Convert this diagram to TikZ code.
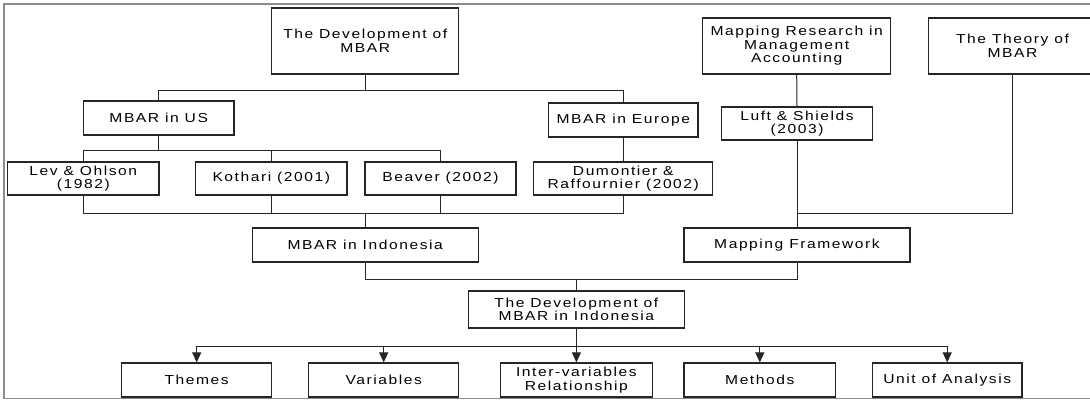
\documentclass[tikz,border=0pt]{standalone}
\usepackage{fontspec}
\newfontfamily\diagfont{Liberation Sans}[FakeStretch=1.2,LetterSpace=12]
\usetikzlibrary{arrows.meta}

\begin{document}
\begin{tikzpicture}[x=1pt,y=-1pt,
  diagbox/.style={draw=black!85,line width=1.2pt,fill=white,inner sep=0pt,
    align=center,font={\diagfont\fontsize{13}{13.5}\selectfont}},
  conn/.style={draw=black!85,line width=1pt},
  arr/.style={conn,-{Triangle[width=9pt,length=10pt]}},
  frameline/.style={draw=black!45,line width=1.8pt}]

% page area
\useasboundingbox (0,0) rectangle (1090,400);
\clip (0,0) rectangle (1090,400);
\fill[white] (0,0) rectangle (1090,400);
\draw[frameline] (4,4) rectangle (1110,398.5);

% bus levels of the connectors
\coordinate (b1) at (0,90);
\coordinate (b2) at (0,150);
\coordinate (b3) at (0,213);
\coordinate (b4) at (0,279);
\coordinate (b5) at (0,346);

% top row
\node[diagbox,minimum width=187.3pt,minimum height=66pt] (dev) at (365.2,41) {The Development of\\MBAR};
\node[diagbox,minimum width=188.3pt,minimum height=56pt] (maprsch) at (796.7,46) {Mapping Research in\\Management\\Accounting};
\node[diagbox,minimum width=168.2pt,minimum height=56pt] (theory) at (1012.5,46) {The Theory of\\MBAR};

% second row
\node[diagbox,minimum width=150.6pt,minimum height=34pt] (us) at (158.7,118) {MBAR in US};
\node[diagbox,minimum width=149.5pt,minimum height=34pt] (europe) at (623.3,120) {MBAR in Europe};
\node[diagbox,minimum width=150.8pt,minimum height=33pt] (luft) at (797,123.5) {Luft \& Shields\\(2003)};

% studies
\node[diagbox,minimum width=151.4pt,minimum height=33pt] (lev) at (83.3,178.5) {Lev \& Ohlson\\(1982)};
\node[diagbox,minimum width=151.2pt,minimum height=33pt] (kothari) at (271.3,178.5) {Kothari (2001)};
\node[diagbox,minimum width=151pt,minimum height=33pt] (beaver) at (440.5,178.5) {Beaver (2002)};
\node[diagbox,minimum width=179pt,minimum height=33pt] (dum) at (623.3,178.5) {Dumontier \&\\Raffournier (2002)};

% synthesis
\node[diagbox,minimum width=226pt,minimum height=34pt] (indo) at (365.2,245) {MBAR in Indonesia};
\node[diagbox,minimum width=226pt,minimum height=34pt] (mapframe) at (797,245) {Mapping Framework};
\node[diagbox,minimum width=216.2pt,minimum height=37pt] (devindo) at (576.4,309.5) {The Development of\\MBAR in Indonesia};

% outcomes
\node[diagbox,minimum width=150.1pt,minimum height=34pt] (themes) at (196.7,380) {Themes};
\node[diagbox,minimum width=150.2pt,minimum height=34pt] (variables) at (383.7,380) {Variables};
\node[diagbox,minimum width=151.5pt,minimum height=34pt] (inter) at (576.4,380) {Inter-variables\\Relationship};
\node[diagbox,minimum width=151.6pt,minimum height=34pt] (methods) at (759.8,380) {Methods};
\node[diagbox,minimum width=149.6pt,minimum height=34pt] (unit) at (947.2,380) {Unit of Analysis};

% development of MBAR -> US / Europe
\draw[conn] (dev.south) -- (dev.south |- b1);
\draw[conn] (us.north) -- (us.north |- b1) -- (europe.north |- b1) -- (europe.north);

% MBAR in US -> studies
\draw[conn] (us.south) -- (us.south |- b2);
\draw[conn] (lev.north) -- (lev.north |- b2) -- (beaver.north |- b2) -- (beaver.north);
\draw[conn] (kothari.north) -- (kothari.north |- b2);

% MBAR in Europe -> Dumontier & Raffournier
\draw[conn] (europe.south) -- (dum.north);

% studies -> MBAR in Indonesia
\draw[conn] (lev.south) -- (lev.south |- b3) -- (dum.south |- b3) -- (dum.south);
\draw[conn] (kothari.south) -- (kothari.south |- b3);
\draw[conn] (beaver.south) -- (beaver.south |- b3);
\draw[conn] (indo.north) -- (indo.north |- b3);

% mapping branch
\draw[conn] (maprsch.south) -- (luft.north);
\draw[conn] (luft.south) -- (mapframe.north);
\draw[conn] (theory.south) -- (theory.south |- b3) -- (mapframe.north |- b3);

% merge into the development of MBAR in Indonesia
\draw[conn] (indo.south) -- (indo.south |- b4) -- (mapframe.south |- b4) -- (mapframe.south);
\draw[conn] (devindo.north) -- (devindo.north |- b4);

% outcomes
\draw[conn] (devindo.south) -- (devindo.south |- b5);
\draw[conn] (themes.north |- b5) -- (unit.north |- b5);
\foreach \n in {themes,variables,inter,methods,unit}
  \draw[arr] (\n.north |- b5) -- (\n.north);
\end{tikzpicture}
\end{document}
